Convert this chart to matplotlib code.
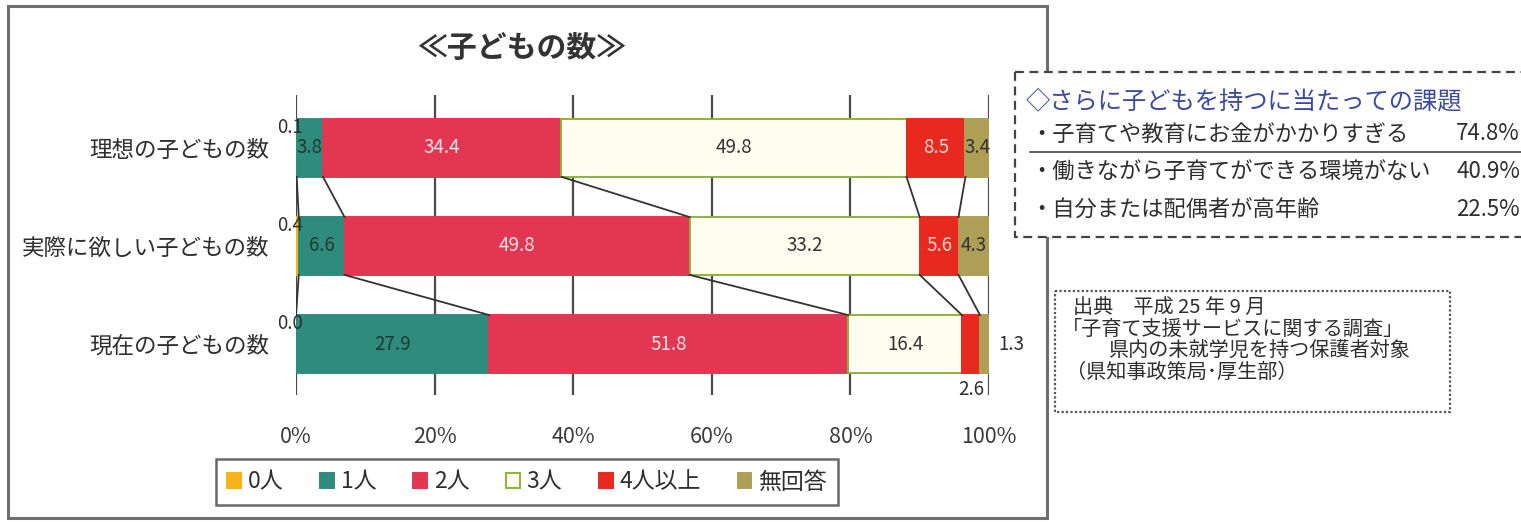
import matplotlib
matplotlib.use("Agg")
import matplotlib.pyplot as plt
from matplotlib.patches import Rectangle
import numpy as np

plt.rcParams['font.family'] = ['Noto Sans CJK JP', 'DejaVu Sans']

# ---- data ----
rows = ["理想の子どもの数", "実際に欲しい子どもの数", "現在の子どもの数"]
categories = ["0人", "1人", "2人", "3人", "4人以上", "無回答"]
ideal = [0.1, 3.8, 34.4, 49.8, 8.5, 3.4]
wanted = [0.4, 6.6, 49.8, 33.2, 5.6, 4.3]
current = [0.0, 27.9, 51.8, 16.4, 2.6, 1.3]
values = np.array([ideal, wanted, current])
xticks = [0, 20, 40, 60, 80, 100]
xtick_labels = ["0%", "20%", "40%", "60%", "80%", "100%"]

issues_title = "◇さらに子どもを持つに当たっての課題"
issues = ["・子育てや教育にお金がかかりすぎる", "・働きながら子育てができる環境がない", "・自分または配偶者が高年齢"]
issue_pcts = ["74.8%", "40.9%", "22.5%"]
source_lines = ["出典　平成 25 年 9 月", "「子育て支援サービスに関する調査」",
                "県内の未就学児を持つ保護者対象", "（県知事政策局･厚生部）"]
source_x = [1073, 1062, 1108, 1066]

face = ["#f6b31b", "#2f8c7c", "#e23652", "#fffdf0", "#e8291f", "#ad9f55"]
edge = ["#f6b31b", "#2f8c7c", "#e23652", "#8db23c", "#e8291f", "#ad9f55"]
txt_col = ["#333333", "#1f3a34", "#fbe3e3", "#333333", "#fbd9d0", "#333333"]
dark = "#2e2e2e"

W, H = 1521, 522
fig = plt.figure(figsize=(W / 100, H / 100), dpi=100)

# overlay in pixel coordinates for frames and side notes
ov = fig.add_axes([0, 0, 1, 1], zorder=0)
ov.set_xlim(0, W)
ov.set_ylim(H, 0)
ov.axis("off")

ov.add_patch(Rectangle((8, 6), 1039, 512, fill=False, ec="#6e6e6e", lw=2.2))
ov.text(522, 48, "≪子どもの数≫", ha="center", va="center", fontsize=21.5,
        fontweight="bold", color="#333333")

# dashed note box
ov.add_patch(Rectangle((1015, 72), 540, 165, fc="white", ec="#444444", lw=1.6,
                       ls=(0, (4, 2.5)), zorder=3))
ov.text(1026, 101, issues_title, ha="left", va="center", fontsize=17.5,
        color="#3b4a9c", zorder=4)
for i, (s, p) in enumerate(zip(issues, issue_pcts)):
    y = 134 + i * 38
    ov.text(1030, y, s, ha="left", va="center", fontsize=16, color=dark, zorder=4)
    ov.text(1520, y, p, ha="right", va="center", fontsize=16, color=dark, zorder=4)
ov.plot([1030, 1521], [152, 152], color="#444444", lw=1.2, zorder=4)

# source box
ov.add_patch(Rectangle((1055, 291), 395, 121, fill=False, ec="#555555", lw=1.6,
                       ls=(0, (1, 1))))
for i, s in enumerate(source_lines):
    ov.text(source_x[i], 308 + i * 21.5, s, ha="left", va="center",
            fontsize=14.5, color=dark)

# ---- main stacked bar chart ----
ax = fig.add_axes([296 / W, 1 - 395 / H, (989 - 296) / W, 300 / H], zorder=2)
ax.patch.set_alpha(0)
ypos = np.arange(len(rows))
h = 0.59
lab_fs = 13.5
left = np.zeros(len(rows))
for j, cat in enumerate(categories):
    ax.barh(ypos, values[:, j], left=left, height=h, color=face[j],
            edgecolor=edge[j], linewidth=1.4, label=cat, zorder=3)
    for i in range(len(rows)):
        v = values[i, j]
        cx = left[i] + v / 2
        if j == 0:
            ax.text(-0.9, ypos[i] - 0.21, f"{v:.1f}", ha="center", va="center",
                    fontsize=lab_fs, color=dark, zorder=5)
        elif i == 2 and j == 4:
            ax.text(cx, ypos[i] + h / 2 + 0.17, f"{v:.1f}", ha="center", va="center",
                    fontsize=lab_fs, color=dark, zorder=5)
        elif i == 2 and j == 5:
            ax.text(103.2, ypos[i], f"{v:.1f}", ha="center", va="center",
                    fontsize=lab_fs, color=dark, zorder=5)
        else:
            ax.text(cx, ypos[i], f"{v:.1f}", ha="center", va="center",
                    fontsize=lab_fs, color=txt_col[j], zorder=5)
    left += values[:, j]

# connector lines between segment boundaries
cum = np.cumsum(values, axis=1)
for i in range(len(rows) - 1):
    for j in range(len(categories) - 1):
        ax.plot([cum[i, j], cum[i + 1, j]], [ypos[i] + h / 2, ypos[i + 1] - h / 2],
                color="#333333", lw=1.3, zorder=4)

ax.set_xlim(0, 100)
ax.set_ylim(2.52, -0.54)
ax.set_xticks(xticks)
ax.set_xticklabels(xtick_labels, fontsize=15.5, color="#3a3a3a")
ax.set_yticks(ypos)
ax.set_yticklabels(rows, fontsize=16.2, color=dark)
ax.tick_params(axis="x", length=0, pad=22)
ax.tick_params(axis="y", length=0, pad=19)
ax.grid(axis="x", color="#4a4a4a", lw=1.6, zorder=0)
for s in ax.spines.values():
    s.set_visible(False)

leg = fig.legend(loc="center", bbox_to_anchor=(527 / W, 1 - 482 / H), ncol=6,
                 fontsize=16.5, frameon=True, fancybox=False, edgecolor="#444444",
                 handlelength=0.6, handleheight=0.6, handletextpad=0.3,
                 columnspacing=1.6, borderpad=0.5, borderaxespad=0, labelcolor=dark)
leg.get_frame().set_linewidth(1.8)

fig.savefig("out.png", dpi=100)
